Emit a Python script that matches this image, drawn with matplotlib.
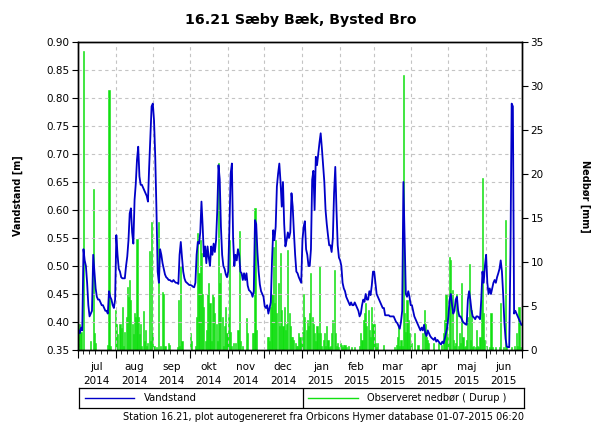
import numpy as np
import matplotlib
matplotlib.use("Agg")
import matplotlib.pyplot as plt
import matplotlib.dates as mdates
from matplotlib.lines import Line2D

plt.rcParams['font.family'] = ['DejaVu Sans']

months = ["jul", "aug", "sep", "okt", "nov", "dec", "jan", "feb", "mar", "apr", "maj", "jun"]
years = ["2014"] * 6 + ["2015"] * 6

# vandstand [m], one value per day
level_jul = [0.385, 0.38, 0.39, 0.385, 0.53, 0.51, 0.50, 0.47, 0.43, 0.41, 0.415, 0.42, 0.52, 0.49, 0.46, 0.445,
             0.44, 0.44, 0.435, 0.43, 0.43, 0.425, 0.42, 0.42, 0.415, 0.455, 0.445, 0.44, 0.43, 0.425, 0.44]
level_aug = [0.555, 0.52, 0.495, 0.49, 0.48, 0.478, 0.478, 0.478, 0.50, 0.517, 0.546, 0.594, 0.603, 0.56, 0.54, 0.618,
             0.647, 0.69, 0.713, 0.66, 0.645, 0.645, 0.64, 0.635, 0.63, 0.625, 0.615, 0.677, 0.73, 0.785, 0.79]
level_sep = [0.76, 0.695, 0.60, 0.49, 0.47, 0.53, 0.52, 0.505, 0.495, 0.485, 0.48, 0.478, 0.475, 0.475, 0.473,
             0.472, 0.475, 0.472, 0.47, 0.47, 0.468, 0.52, 0.543, 0.515, 0.49, 0.478, 0.472, 0.47, 0.468, 0.466]
level_okt = [0.466, 0.465, 0.463, 0.462, 0.47, 0.52, 0.543, 0.54, 0.56, 0.615, 0.57, 0.517, 0.535, 0.505, 0.535,
             0.515, 0.50, 0.535, 0.52, 0.54, 0.525, 0.546, 0.60, 0.68, 0.655, 0.57, 0.52, 0.50, 0.495, 0.485, 0.48]
level_nov = [0.49, 0.57, 0.665, 0.683, 0.55, 0.50, 0.52, 0.51, 0.53, 0.52, 0.49, 0.487, 0.475, 0.487, 0.475,
             0.487, 0.465, 0.457, 0.455, 0.452, 0.445, 0.455, 0.582, 0.575, 0.525, 0.49, 0.467, 0.455, 0.45, 0.445]
level_dec = [0.428, 0.425, 0.43, 0.415, 0.425, 0.435, 0.51, 0.564, 0.546, 0.57, 0.642, 0.665, 0.683, 0.65, 0.606,
             0.65, 0.575, 0.535, 0.546, 0.56, 0.55, 0.56, 0.63, 0.606, 0.56, 0.52, 0.49, 0.487, 0.48, 0.475, 0.47]
level_jan = [0.546, 0.57, 0.58, 0.53, 0.52, 0.50, 0.50, 0.53, 0.654, 0.67, 0.60, 0.695, 0.68, 0.70, 0.72, 0.737,
             0.71, 0.68, 0.65, 0.60, 0.575, 0.555, 0.537, 0.537, 0.525, 0.55, 0.63, 0.677, 0.60, 0.537, 0.515]
level_feb = [0.51, 0.50, 0.47, 0.46, 0.455, 0.445, 0.44, 0.435, 0.43, 0.435, 0.43, 0.43, 0.435, 0.43, 0.425,
             0.42, 0.41, 0.415, 0.43, 0.44, 0.436, 0.45, 0.44, 0.44, 0.455, 0.448, 0.465, 0.49]
level_mar = [0.49, 0.47, 0.45, 0.445, 0.44, 0.435, 0.43, 0.425, 0.425, 0.412, 0.412, 0.412, 0.412, 0.41, 0.41,
             0.41, 0.41, 0.405, 0.40, 0.398, 0.393, 0.388, 0.40, 0.42, 0.65, 0.55, 0.45, 0.445, 0.455, 0.445, 0.43]
level_apr = [0.43, 0.42, 0.41, 0.405, 0.40, 0.395, 0.39, 0.385, 0.39, 0.385, 0.395, 0.38, 0.375, 0.385, 0.38,
             0.375, 0.372, 0.37, 0.368, 0.372, 0.365, 0.368, 0.365, 0.362, 0.36, 0.365, 0.362, 0.37, 0.38, 0.39]
level_maj = [0.41, 0.44, 0.45, 0.43, 0.415, 0.42, 0.44, 0.445, 0.42, 0.41, 0.41, 0.405, 0.40, 0.398, 0.396,
             0.395, 0.44, 0.455, 0.44, 0.42, 0.41, 0.408, 0.405, 0.41, 0.41, 0.408, 0.405, 0.44, 0.49, 0.47, 0.50]
level_jun = [0.52, 0.47, 0.45, 0.46, 0.45, 0.46, 0.47, 0.475, 0.47, 0.48, 0.487, 0.495, 0.51, 0.49, 0.45,
             0.40, 0.37, 0.356, 0.355, 0.355, 0.52, 0.79, 0.785, 0.415, 0.42, 0.415, 0.41, 0.405, 0.40, 0.395]

# observeret nedbør [mm], one value per day
rain_jul = [2.5, 3.0, 2.0, 0, 34, 0, 0, 0, 0, 0, 1.0, 0, 18.3, 1.9, 0.8, 0, 0, 0, 0, 0, 0, 0, 0, 0, 0.6,
            29.5, 0.5, 0, 0, 0, 4.5]
rain_aug = [3.0, 1.8, 0, 3.0, 2.5, 4.9, 0.5, 2.0, 3.8, 7.2, 6.0, 8.0, 5.7, 3.0, 1.8, 4.2, 3.8, 12.6, 3.8, 1.8,
            3.0, 0.5, 4.4, 1.0, 2.3, 0.5, 0.8, 11.2, 1.0, 14.6, 1.9]
rain_sep = [0.5, 0, 0.3, 0, 14.6, 0.5, 0, 6.6, 6.4, 0.5, 0, 0, 0.8, 0.6, 0, 0, 0, 0, 0, 0.3, 5.7, 0.5, 9.5,
            1.0, 0, 0, 0, 0, 0, 0]
rain_okt = [1.9, 1.0, 0, 0, 0.5, 3.8, 13.3, 8.7, 12.5, 11.0, 6.4, 4.9, 1.0, 2.3, 6.4, 7.6, 5.3, 1.0, 6.4, 6.0,
            4.2, 3.0, 1.0, 21.2, 7.6, 8.7, 3.8, 0.5, 2.7, 4.9, 1.9]
rain_nov = [3.8, 12.5, 2.0, 0.5, 0.8, 0, 0.8, 0, 2.3, 13.5, 1.0, 0, 0.4, 0, 0, 3.6, 1.9, 0, 0, 0, 1.9, 1.9,
            16.1, 2.3, 0, 0, 0, 0, 0, 0]
rain_dec = [0, 0, 1.5, 1.5, 1.0, 4.9, 6.4, 11.7, 5.3, 12.5, 4.2, 7.6, 2.7, 11.0, 4.5, 2.7, 4.9, 2.3, 3.0, 11.4,
            4.2, 2.7, 1.5, 1.5, 1.1, 0.8, 0.5, 0.4, 1.9, 1.5, 0.8]
rain_jan = [2.0, 6.4, 3.8, 2.3, 3.4, 2.7, 4.2, 8.7, 3.8, 3.0, 1.9, 1.0, 2.7, 1.9, 9.5, 1.9, 0.5, 1.1, 1.9, 0.5,
            2.7, 1.1, 0.3, 0.5, 1.9, 3.4, 9.1, 1.9, 0.5, 0.8, 0.3]
rain_feb = [0.8, 0.6, 0.3, 0.6, 0.6, 0.3, 0, 0.5, 0, 0.3, 0, 0, 0.3, 0, 0, 0, 0.5, 1.9, 1.1, 3.4, 4.2, 5.3,
            2.7, 4.5, 2.3, 1.5, 4.9, 3.0]
rain_mar = [3.0, 0.8, 0.3, 0.8, 0, 0, 0, 0, 0.6, 0, 0, 0, 0, 0, 0, 0, 0, 0.3, 0.6, 1.5, 2.7, 0.5, 1.1, 0.5,
            31.3, 4.2, 2.0, 5.7, 3.4, 1.9, 0.5]
rain_apr = [0.8, 0, 1.9, 0, 0, 0.6, 0, 0, 0, 1.9, 4.5, 3.0, 1.5, 1.1, 0.8, 0, 0, 0, 0.8, 0, 0, 0, 0.8, 0,
            0.6, 0, 1.9, 3.4, 6.4, 1.5]
rain_maj = [0.8, 10.6, 10.2, 6.8, 1.1, 0.5, 0.8, 6.4, 0.5, 1.9, 0.8, 7.6, 1.5, 0.3, 0.5, 1.1, 3.8, 9.8, 1.1,
            4.5, 0.3, 0.5, 0.3, 2.3, 0.5, 0.3, 1.5, 5.7, 19.5, 4.2, 1.1]
rain_jun = [0.5, 0, 0, 0.3, 4.2, 0.3, 0, 0, 0.3, 0, 0, 0.3, 5.3, 0, 0.3, 0, 14.8, 0.3, 0, 0, 0, 0.3, 0, 0.5,
            0, 1.9, 0.5, 4.9, 0.3, 0]

level = np.concatenate([level_jul, level_aug, level_sep, level_okt, level_nov, level_dec,
                        level_jan, level_feb, level_mar, level_apr, level_maj, level_jun])
rain = np.concatenate([rain_jul, rain_aug, rain_sep, rain_okt, rain_nov, rain_dec,
                       rain_jan, rain_feb, rain_mar, rain_apr, rain_maj, rain_jun])

days = np.arange(np.datetime64('2014-07-01'), np.datetime64('2015-07-01'))
x = mdates.date2num(days) + 0.5

fig = plt.figure(figsize=(6, 4.25), dpi=100)
ax1 = fig.add_axes([78 / 600, 1 - 350 / 425, 444 / 600, 308 / 425])
ax2 = ax1.twinx()

green = '#11E011'
blue = '#0000C8'
ax2.bar(x, rain, width=0.9, color=green, edgecolor=green, linewidth=0.4)
ax1.plot(x, level, color=blue, lw=1.3)
ax1.set_zorder(ax2.get_zorder() + 1)
ax1.patch.set_visible(False)

ax1.set_xlim(mdates.date2num(np.datetime64('2014-07-01')), mdates.date2num(np.datetime64('2015-07-01')))
ax1.set_ylim(0.35, 0.90)
ax2.set_ylim(0, 35)
ax1.set_yticks(np.arange(0.35, 0.901, 0.05))
ax1.yaxis.set_major_formatter(plt.FormatStrFormatter('%.2f'))
ax2.set_yticks(np.arange(0, 36, 5))

ax1.xaxis.set_major_locator(mdates.MonthLocator())
ax1.xaxis.set_minor_locator(mdates.DayLocator(bymonthday=[5, 10, 15, 20, 25]))
ax1.tick_params(axis='x', which='major', length=6, labelbottom=False)
ax1.tick_params(axis='x', which='minor', length=3)
ax1.tick_params(axis='y', length=4, labelsize=7.5, pad=2)
ax2.tick_params(axis='y', length=4, labelsize=7.5, pad=2)

ax1.grid(True, which='major', color='#C4C4C4', linestyle=(0, (3, 3)), linewidth=0.8)
for ax in (ax1, ax2):
    for s in ax.spines.values():
        s.set_linewidth(1.0)

# month labels centred in each month
starts = np.arange(np.datetime64('2014-07'), np.datetime64('2015-08'), dtype='datetime64[M]').astype('datetime64[D]')
mids = (mdates.date2num(starts[:-1]) + mdates.date2num(starts[1:])) / 2
for m, y, xm in zip(months, years, mids):
    ax1.text(xm, -17 / 308, m, transform=ax1.get_xaxis_transform(), ha='center', va='center', fontsize=7.5)
    ax1.text(xm, -31 / 308, y, transform=ax1.get_xaxis_transform(), ha='center', va='center', fontsize=7.5)

fig.text(0.502, 1 - 20 / 425, "16.21 Sæby Bæk, Bysted Bro", ha='center', va='center',
         fontsize=10.2, fontweight='bold')
fig.text(18 / 600, 1 - 196 / 425, "Vandstand [m]", rotation=90, ha='center', va='center',
         fontsize=7, fontweight='bold')
fig.text(585 / 600, 1 - 196 / 425, "Nedbør [mm]", rotation=270, ha='center', va='center',
         fontsize=7, fontweight='bold')

# legend box below the plot
lax = fig.add_axes([79 / 600, 1 - 408 / 425, 445 / 600, 20 / 425])
lax.set_xlim(0, 1)
lax.set_ylim(0, 1)
lax.set_xticks([])
lax.set_yticks([])
for s in lax.spines.values():
    s.set_linewidth(0.9)
lax.axvline(0.503, color='black', lw=0.9)
lax.add_line(Line2D([0.0135, 0.124], [0.5, 0.5], color=blue, lw=1.0))
lax.text(0.146, 0.5, "Vandstand", va='center', ha='left', fontsize=7.2)
lax.add_line(Line2D([0.515, 0.627], [0.5, 0.5], color=green, lw=1.0))
lax.text(0.647, 0.5, "Observeret nedbør ( Durup )", va='center', ha='left', fontsize=7.0)

fig.text(524 / 600, 1 - 417 / 425,
         "Station 16.21, plot autogenereret fra Orbicons Hymer database 01-07-2015 06:20",
         ha='right', va='center', fontsize=7.0)

fig.savefig("out.png", dpi=100)
